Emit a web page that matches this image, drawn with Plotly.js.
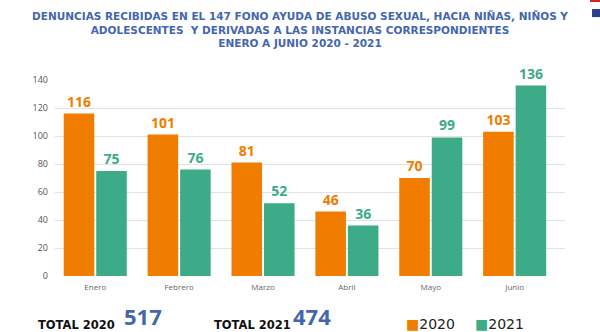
<!DOCTYPE html>
<html>
<head>
<meta charset="utf-8">
<script src="https://cdn.plot.ly/plotly-3.0.1.min.js"></script>
<style>html,body{margin:0;padding:0;background:#fff;}#chart{width:600px;height:332px;}</style>
</head>
<body>
<div id="chart"></div>
<script>
const months = ["Enero", "Febrero", "Marzo", "Abril", "Mayo", "Junio"];
const values2020 = [116, 101, 81, 46, 70, 103];
const values2021 = [75, 76, 52, 36, 99, 136];
const total2020 = 517;
const total2021 = 474;
const yTicks = [0, 20, 40, 60, 80, 100, 120, 140];
const titleLines = [
  "DENUNCIAS RECIBIDAS EN EL 147 FONO AYUDA DE ABUSO SEXUAL, HACIA NIÑAS, NIÑOS Y",
  "ADOLESCENTES  Y DERIVADAS A LAS INSTANCIAS CORRESPONDIENTES",
  "ENERO A JUNIO 2020 - 2021"
];

const ORANGE = "#f07d00";
const GREEN = "#3dab88";
const BLUE = "#4466ad";
const FONT = "Open Sans, sans-serif";
const WIDE = "DejaVu Sans, sans-serif";

const traces = [
  {type: "bar", name: "2020", x: months, y: values2020, marker: {color: ORANGE},
   text: values2020.map(String), textposition: "outside", cliponaxis: false,
   textfont: {family: FONT, size: 14, color: ORANGE, weight: "bold"}},
  {type: "bar", name: "2021", x: months, y: values2021, marker: {color: GREEN},
   text: values2021.map(String), textposition: "outside", cliponaxis: false,
   textfont: {family: FONT, size: 14, color: GREEN, weight: "bold"}}
];

const layout = {
  width: 600, height: 332,
  margin: {l: 55, r: 35, t: 80, b: 56},
  paper_bgcolor: "#fff", plot_bgcolor: "#fff",
  showlegend: false,
  barmode: "group", bargap: 0.225, bargroupgap: 0.06,
  font: {family: FONT, color: "#555"},
  title: {text: titleLines.join("<br>"), x: 0.5, xref: "container", xanchor: "center",
          y: 0.94, yref: "container", yanchor: "middle",
          font: {family: WIDE, size: 10.5, color: BLUE, weight: "bold"}},
  xaxis: {range: [-0.48, 5.6], showgrid: false, zeroline: false, showline: false,
          ticks: "", tickfont: {size: 8, color: "#666"}, ticklabelstandoff: 5},
  yaxis: {range: [0, 140], tickvals: yTicks, showgrid: true, gridcolor: "#e2e2e2", gridwidth: 1,
          zeroline: false, showline: false, ticks: "", tickfont: {size: 9, color: "#555"},
          ticklabelstandoff: 6},
  annotations: [
    {text: "TOTAL 2020", xref: "paper", yref: "paper", x: -0.037, y: -0.25, xanchor: "left", yanchor: "middle",
     showarrow: false, font: {family: WIDE, size: 11.5, color: "#111", weight: "bold"}},
    {text: String(total2020), xref: "paper", yref: "paper", x: 0.134, y: -0.284, xanchor: "left", yanchor: "bottom",
     borderpad: 0, showarrow: false, font: {family: FONT, size: 22, color: BLUE, weight: "bold"}},
    {text: "TOTAL 2021", xref: "paper", yref: "paper", x: 0.308, y: -0.25, xanchor: "left", yanchor: "middle",
     showarrow: false, font: {family: WIDE, size: 11.5, color: "#111", weight: "bold"}},
    {text: String(total2021), xref: "paper", yref: "paper", x: 0.465, y: -0.284, xanchor: "left", yanchor: "bottom",
     borderpad: 0, showarrow: false, font: {family: FONT, size: 22, color: BLUE, weight: "bold"}},
    {text: "<span style='color:" + ORANGE + "'>■</span>2020", xref: "paper", yref: "paper", x: 0.684, y: -0.245,
     xanchor: "left", yanchor: "middle", showarrow: false, font: {family: WIDE, size: 14, color: "#222"}},
    {text: "<span style='color:" + GREEN + "'>■</span>2021", xref: "paper", yref: "paper", x: 0.82, y: -0.245,
     xanchor: "left", yanchor: "middle", showarrow: false, font: {family: WIDE, size: 14, color: "#222"}}
  ],
  shapes: [
    {type: "rect", xref: "paper", yref: "paper", x0: 1.049, x1: 1.08, y0: 1.398, y1: 1.42, fillcolor: "#d22", line: {width: 0}},
    {type: "rect", xref: "paper", yref: "paper", x0: 1.053, x1: 1.08, y0: 1.321, y1: 1.362, fillcolor: "#2b3f8a", line: {width: 0}}
  ]
};

Plotly.newPlot("chart", traces, layout, {displayModeBar: false, staticPlot: true});
</script>
</body>
</html>
